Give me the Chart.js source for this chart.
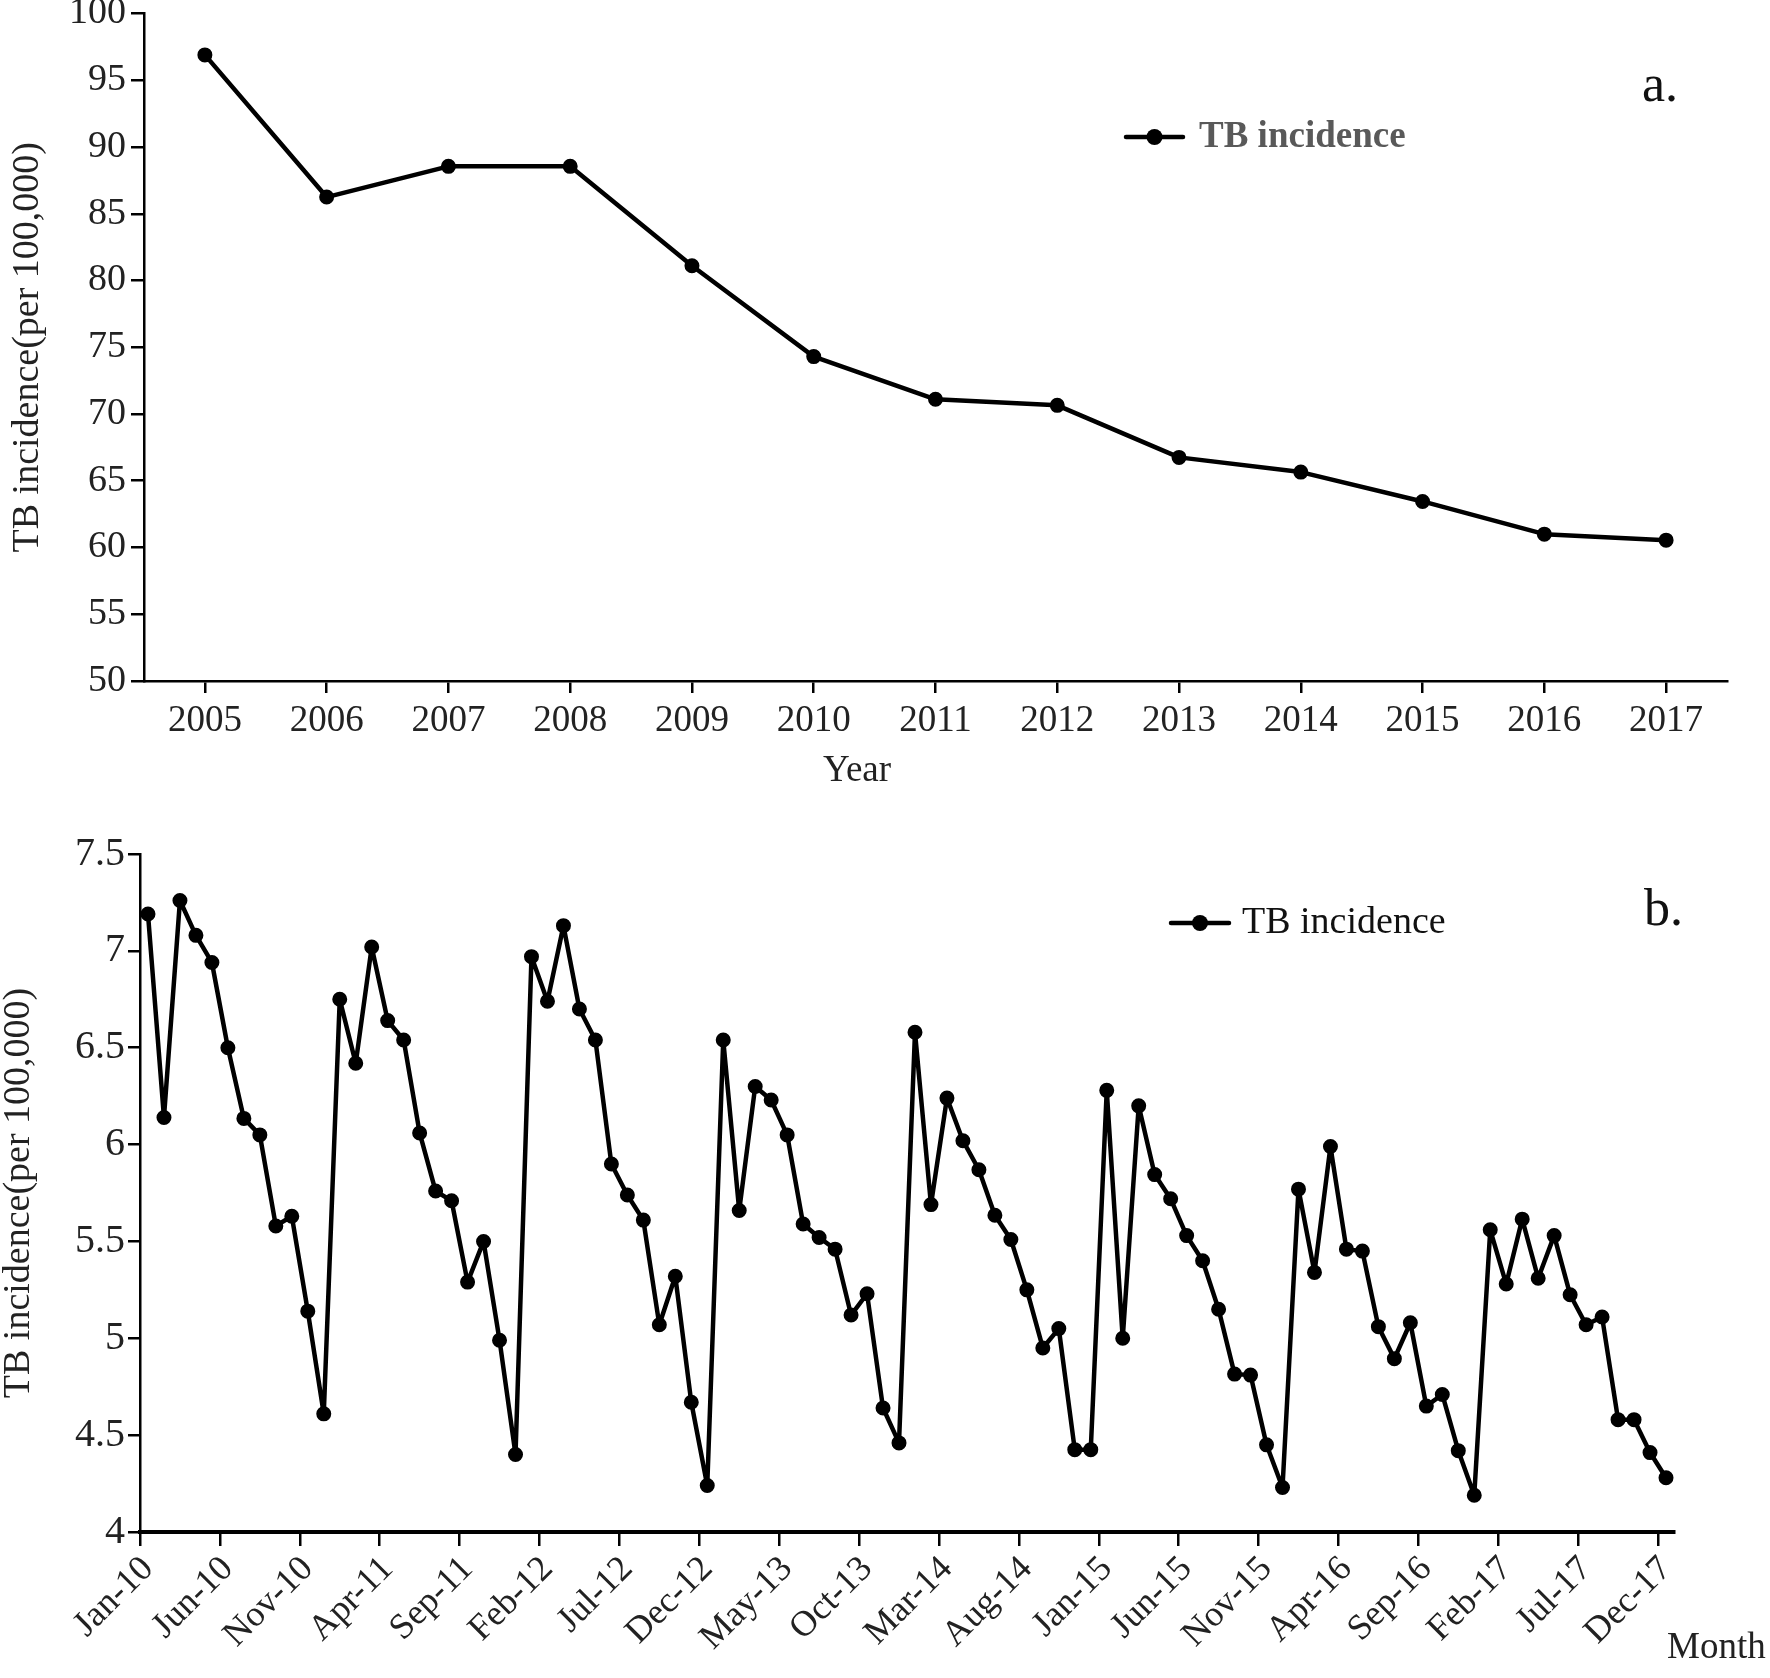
<!DOCTYPE html>
<html>
<head>
<meta charset="utf-8">
<script src="https://cdn.jsdelivr.net/npm/chart.js@4.4.1/dist/chart.umd.min.js"></script>
<style>
  html, body { margin: 0; padding: 0; background: #fff; }
  body { width: 1770px; height: 1678px; position: relative; overflow: hidden; }
  .panel { position: absolute; left: 0; width: 1770px; }
  #panelA { top: 0; height: 800px; }
  #panelB { top: 820px; height: 858px; }
</style>
</head>
<body>
<div class="panel" id="panelA"><canvas id="yearChart"></canvas></div>
<div class="panel" id="panelB"><canvas id="monthChart"></canvas></div>
<script>
const years = ["2005", "2006", "2007", "2008", "2009", "2010", "2011",
  "2012", "2013", "2014", "2015", "2016", "2017"];

const yearly_incidence = [96.9, 86.25, 88.55, 88.55, 81.1, 74.3, 71.1,
  70.65, 66.75, 65.65, 63.45, 61.0, 60.55];

const month_names = ["Jan", "Feb", "Mar", "Apr", "May", "Jun",
  "Jul", "Aug", "Sep", "Oct", "Nov", "Dec"];
const month_years = ["10", "11", "12", "13", "14", "15", "16", "17"];

// one category per month, Jan-10 .. Dec-17
const months = [];
month_years.forEach((y) => month_names.forEach((m) => months.push(m + "-" + y)));

const monthly_incidence = [
  7.19, 6.14, 7.26, 7.08, 6.94, 6.50, 6.135, 6.05, 5.58, 5.63, 5.14, 4.61,
  6.75, 6.42, 7.02, 6.64, 6.54, 6.06, 5.76, 5.71, 5.29, 5.50, 4.99, 4.40,
  6.97, 6.74, 7.13, 6.70, 6.54, 5.90, 5.74, 5.61, 5.07, 5.32, 4.67, 4.24,
  6.54, 5.66, 6.30, 6.23, 6.05, 5.59, 5.52, 5.46, 5.12, 5.23, 4.64, 4.46,
  6.58, 5.69, 6.24, 6.02, 5.87, 5.635, 5.51, 5.25, 4.95, 5.05, 4.425, 4.425,
  6.28, 5.00, 6.20, 5.845, 5.72, 5.53, 5.40, 5.15, 4.815, 4.81, 4.45, 4.23,
  5.77, 5.34, 5.99, 5.46, 5.45, 5.06, 4.895, 5.08, 4.65, 4.71, 4.42, 4.19,
  5.56, 5.28, 5.615, 5.31, 5.53, 5.225, 5.07, 5.11, 4.58, 4.58, 4.41, 4.28,
];

const serif = "'Liberation Serif', 'Times New Roman', serif";
const text_color = "#222";

// panel letters, axis names and the line+dot legend
const annotate = {
  id: "annotate",
  afterDraw(chart, args, opts) {
    const c = chart.ctx;
    c.save();
    (opts.texts || []).forEach((t) => {
      c.font = t.font;
      c.fillStyle = t.color || text_color;
      c.textAlign = t.align || "left";
      c.textBaseline = "alphabetic";
      c.fillText(t.text, t.x, t.y);
    });
    const lg = opts.legend;
    if (lg) {
      c.strokeStyle = "#000";
      c.lineWidth = 4.5;
      c.lineCap = "round";
      c.beginPath();
      c.moveTo(lg.x1, lg.y);
      c.lineTo(lg.x2, lg.y);
      c.stroke();
      c.beginPath();
      c.arc((lg.x1 + lg.x2) / 2, lg.y, 8, 0, Math.PI * 2);
      c.fillStyle = "#000";
      c.fill();
      c.font = lg.font;
      c.fillStyle = lg.color;
      c.textAlign = "left";
      c.textBaseline = "middle";
      c.fillText(chart.data.datasets[0].label, lg.tx, lg.y);
    }
    c.restore();
  },
};

function lineDataset(values, r) {
  return {
    label: "TB incidence",
    data: values,
    borderColor: "#000",
    backgroundColor: "#000",
    borderWidth: 4.5,
    borderJoinStyle: "round",
    tension: 0,
    pointRadius: r,
    pointBorderWidth: 2,
    pointBackgroundColor: "#000",
    pointBorderColor: "#000",
  };
}

new Chart(document.getElementById("yearChart"), {
  type: "line",
  data: { labels: years, datasets: [lineDataset(yearly_incidence, 6.5)] },
  plugins: [annotate],
  options: {
    responsive: true,
    maintainAspectRatio: false,
    animation: false,
    layout: { padding: { top: 13.5, right: 43, left: 0, bottom: 0 } },
    plugins: {
      legend: { display: false },
      tooltip: { enabled: false },
      annotate: {
        texts: [
          { text: "a.", x: 1642, y: 101, font: "52px " + serif, color: "#111" },
          { text: "Year", x: 857, y: 781, font: "37px " + serif, align: "center" },
        ],
        legend: { x1: 1126, x2: 1183, y: 137, tx: 1199, font: "bold 37px " + serif, color: "#595959" },
      },
    },
    scales: {
      x: {
        offset: true,
        grid: { offset: false, drawOnChartArea: false, drawTicks: true, tickLength: 12, color: "#000", lineWidth: 2.5 },
        border: { color: "#000", width: 2.5 },
        ticks: { color: text_color, font: { family: serif, size: 37 }, padding: 6, maxRotation: 0, autoSkip: false },
        afterFit(s) { s.height = 119; s.paddingLeft = 0; s.paddingRight = 0; },
      },
      y: {
        min: 50,
        max: 100,
        grid: { drawOnChartArea: false, drawTicks: true, tickLength: 13, color: "#000", lineWidth: 2.5 },
        border: { color: "#000", width: 2.5 },
        ticks: { stepSize: 5, color: text_color, font: { family: serif, size: 38 }, padding: 5, callback: (v) => String(v) },
        title: { display: true, text: "TB incidence(per 100,000)", color: text_color, font: { family: serif, size: 38, lineHeight: 1.1 }, padding: { top: 7, bottom: 0 } },
        afterFit(s) { s.width = 144; s.paddingTop = 0; s.paddingBottom = 0; },
      },
    },
  },
});

new Chart(document.getElementById("monthChart"), {
  type: "line",
  data: { labels: months, datasets: [lineDataset(monthly_incidence, 6.5)] },
  plugins: [annotate],
  options: {
    responsive: true,
    maintainAspectRatio: false,
    animation: false,
    layout: { padding: { top: 34, right: 96, left: 0, bottom: 0 } },
    plugins: {
      legend: { display: false },
      tooltip: { enabled: false },
      annotate: {
        texts: [
          { text: "b.", x: 1644, y: 105, font: "52px " + serif, color: "#111" },
          { text: "Month", x: 1667, y: 838, font: "37px " + serif },
        ],
        legend: { x1: 1171, x2: 1229, y: 103, tx: 1242, font: "38px " + serif, color: "#111" },
      },
    },
    scales: {
      x: {
        offset: true,
        grid: {
          offset: true,
          drawOnChartArea: false,
          drawTicks: true,
          tickLength: 14,
          lineWidth: 2.5,
          color: (ctx) => (ctx.index % 5 === 0 && ctx.index < months.length ? "#000" : "rgba(0,0,0,0)"),
        },
        border: { color: "#000", width: 4 },
        ticks: {
          color: text_color,
          font: { family: serif, size: 36 },
          padding: 2,
          autoSkip: false,
          minRotation: 45,
          maxRotation: 45,
          callback: (v, i) => (i % 5 === 0 ? months[i] : ""),
        },
        afterFit(s) { s.height = 146; s.paddingLeft = 0; s.paddingRight = 0; },
      },
      y: {
        min: 4,
        max: 7.5,
        grid: { drawOnChartArea: false, drawTicks: true, tickLength: 12, color: "#000", lineWidth: 2.5 },
        border: { color: "#000", width: 2.5 },
        ticks: { stepSize: 0.5, color: text_color, font: { family: serif, size: 40 }, padding: 3, callback: (v) => String(v) },
        title: { display: true, text: "TB incidence(per 100,000)", color: text_color, font: { family: serif, size: 38, lineHeight: 1.0 }, padding: { top: 0, bottom: 0 } },
        afterFit(s) { s.width = 140; s.paddingTop = 0; s.paddingBottom = 0; },
      },
    },
  },
});
</script>
</body>
</html>
